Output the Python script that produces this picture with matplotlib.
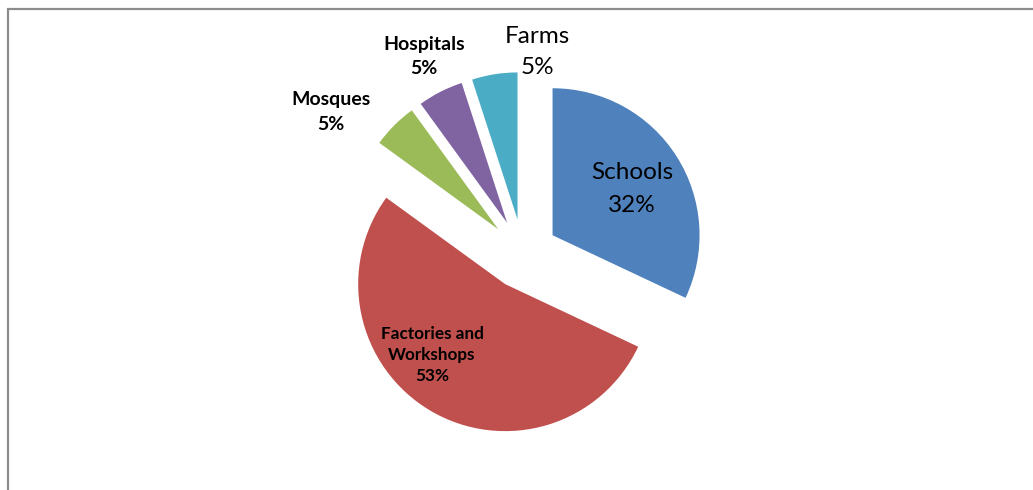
import matplotlib.pyplot as plt

# building types and their share (%)
categories = ["Schools", "Factories and\nWorkshops", "Mosques", "Hospitals", "Farms"]
shares = [32, 53, 5, 5, 5]
colors = ["#4F81BD", "#C0504D", "#9BBB59", "#8064A2", "#4BACC6"]

# label placement (pixel coords, y from bottom) and style per slice
label_pos = [(632, 301), (432, 135), (331, 378), (424, 433), (537, 438)]
label_bold = [False, True, True, True, False]
label_size = [17.5, 12.3, 14, 14, 17.5]
label_spacing = [1.65, 1.4, 1.55, 1.5, 1.6]

W, H = 1033, 490
fig = plt.figure(figsize=(W / 100, H / 100), dpi=100)
ax = fig.add_axes([0, 0, 1, 1])

# explode is given in data units (pixels here)
ax.pie(shares, colors=colors, startangle=90, counterclock=False,
       radius=147, center=(523, H - 254), explode=[35] * len(shares),
       wedgeprops=dict(linewidth=0), frame=True)
ax.set_xlim(0, W)
ax.set_ylim(0, H)
ax.set_aspect("equal")
ax.axis("off")

for name, val, (x, y), bold, size, ls in zip(categories, shares, label_pos,
                                             label_bold, label_size, label_spacing):
    ax.text(x, y, f"{name}\n{val}%", ha="center", va="center", fontsize=size,
            fontweight="bold" if bold else "normal", family="Lato",
            linespacing=ls, color="black")

# chart border (left and top edges)
ax.plot([7.5, 7.5], [0, H - 9], color="#8c8c8c", lw=1.6, solid_capstyle="butt")
ax.plot([7, W], [H - 9, H - 9], color="#8c8c8c", lw=1.6, solid_capstyle="butt")

fig.savefig("out.png", dpi=100)
